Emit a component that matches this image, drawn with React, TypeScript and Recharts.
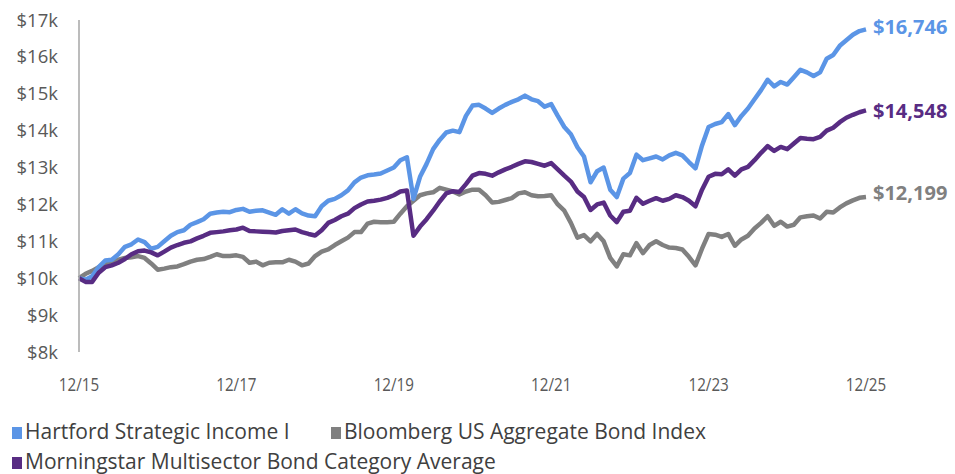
import { LineChart, Line, XAxis, YAxis, LabelList } from "recharts";

// monthly growth of $10,000, 12/15 .. 12/25
const hartford = [
  10000, 9960, 10050, 10300, 10480, 10500, 10650, 10850, 10920, 11050, 10980, 10800, 10850, 11000, 11150, 11250, 11300, 11450, 11520, 11600, 11750,
  11780, 11800, 11790, 11850, 11880, 11800, 11830, 11840, 11780, 11720, 11870, 11750, 11870, 11760, 11700, 11680, 11950, 12100, 12150, 12250,
  12380, 12600, 12730, 12790, 12810, 12840, 12920, 13000, 13200, 13280,
  12150, 12750, 13100, 13500, 13750, 13950, 14000, 13960, 14400, 14680,
  14700, 14600, 14480, 14600, 14700, 14780, 14850, 14950, 14850, 14800,
  14650, 14720, 14400, 14100, 13900, 13550, 13300, 12600, 12900, 13000,
  12400, 12200, 12700, 12850, 13350, 13200, 13250, 13300, 13220, 13330,
  13400, 13330, 13150, 12980, 13600, 14100, 14180, 14230, 14450, 14150,
  14400, 14600, 14850, 15100, 15380, 15200, 15320, 15250, 15450, 15650,
  15580, 15480, 15580, 15950, 16050, 16300, 16450, 16600, 16700, 16746,
];

const bloomberg = [
  10000, 10120, 10200, 10300, 10400, 10450, 10500, 10550, 10570, 10600, 10550, 10400, 10230, 10260, 10300, 10320, 10380, 10450, 10500, 10520, 10580,
  10650, 10600, 10600, 10620, 10580, 10420, 10450, 10350, 10420, 10430, 10430, 10500, 10450, 10350, 10400, 10600, 10720, 10780, 10900, 11000,
  11100, 11250, 11250, 11480, 11530, 11520, 11520, 11530, 11750, 11950,
  12100, 12250, 12300, 12330, 12450, 12400, 12350, 12270, 12350, 12400,
  12400, 12250, 12050, 12070, 12120, 12170, 12300, 12330, 12250, 12220,
  12230, 12250, 12000, 11830, 11500, 11100, 11170, 11000, 11200, 11000,
  10550, 10320, 10650, 10620, 10950, 10680, 10900, 11000, 10900, 10830,
  10820, 10780, 10580, 10350, 10800, 11200, 11180, 11120, 11200, 10880,
  11050, 11150, 11350, 11500, 11680, 11420, 11530, 11400, 11450, 11650,
  11680, 11700, 11620, 11800, 11780, 11920, 12030, 12110, 12180, 12199,
];

const morningstar = [
  10000, 9900, 9900, 10150, 10300, 10350, 10420, 10520, 10650, 10730, 10750, 10700, 10620, 10720, 10830, 10900, 10960, 11000, 11080, 11150, 11230,
  11250, 11270, 11300, 11320, 11370, 11280, 11270, 11260, 11250, 11240, 11280, 11300, 11320, 11250, 11200, 11160, 11300, 11500, 11580, 11680,
  11750, 11900, 12000, 12080, 12100, 12130, 12180, 12250, 12350, 12380,
  11150, 11400, 11600, 11830, 12080, 12300, 12360, 12340, 12550, 12780,
  12850, 12830, 12780, 12870, 12950, 13020, 13100, 13170, 13150, 13100,
  13050, 13120, 12950, 12780, 12620, 12350, 12200, 11850, 12000, 12050,
  11700, 11520, 11800, 11830, 12180, 12020, 12100, 12170, 12100, 12150,
  12250, 12200, 12100, 11950, 12400, 12750, 12830, 12820, 12950, 12780,
  12950, 13020, 13200, 13400, 13580, 13450, 13560, 13500, 13650, 13800,
  13780, 13770, 13830, 14000, 14080, 14230, 14350, 14430, 14500, 14548,
];

const xTicks = [0, 24, 48, 72, 96, 120];
const xTickLabels = ["12/15", "12/17", "12/19", "12/21", "12/23", "12/25"];
const yTicks = [8000, 9000, 10000, 11000, 12000, 13000, 14000, 15000, 16000, 17000];

const BLUE = "#5B95E6";
const GRAY = "#808080";
const PURPLE = "#582C83";
const FONT = "'Open Sans', sans-serif";

const data = hartford.map((v, i) => ({
  m: i,
  hartford: v,
  bloomberg: bloomberg[i],
  morningstar: morningstar[i],
}));
const last = data.length - 1;

const endLabel = (color: string, dy: number) => (props: any) => {
  if (props.index !== last) return null;
  return (
    <text x={props.x + 7} y={props.y + dy} fill={color} fontSize={20} fontWeight={700} fontFamily={FONT}>
      {"$" + Number(props.value).toLocaleString("en-US")}
    </text>
  );
};

const XTick = (props: any) => {
  const { x, y, payload } = props;
  const label = xTickLabels[xTicks.indexOf(payload.value)] ?? "";
  return (
    <text
      x={0}
      y={0}
      textAnchor="middle"
      fill="#595959"
      fontSize={19}
      fontFamily={FONT}
      transform={`translate(${x} ${y + 13}) scale(0.8 1)`}
    >
      {label}
    </text>
  );
};

const legendItems = [
  { name: "Hartford Strategic Income I", color: BLUE, x: 12, y: 39 },
  { name: "Bloomberg US Aggregate Bond Index", color: GRAY, x: 331, y: 39 },
  { name: "Morningstar Multisector Bond Category Average", color: PURPLE, x: 12, y: 69 },
];

export default function App() {
  return (
    <div style={{ position: "relative", width: 955, height: 474, overflow: "hidden", background: "#fff" }}>
      <style>{`body{margin:0}`}</style>
      <LineChart width={955} height={400} data={data} margin={{ top: 20, right: 89, bottom: 18, left: 0 }}>
        <XAxis
          dataKey="m"
          type="number"
          domain={[0, 120]}
          ticks={xTicks}
          axisLine={false}
          tickLine={false}
          tickSize={0}
          tickMargin={26}
          height={30}
          tick={<XTick />}
          interval={0}
        />
        <YAxis
          type="number"
          domain={[8000, 17000]}
          ticks={yTicks}
          width={79}
          axisLine={{ stroke: "#A6A6A6", strokeWidth: 1.5 }}
          tickLine={false}
          tickSize={0}
          tickMargin={21}
          tickFormatter={(v: number) => `$${v / 1000}k`}
          tick={{ fill: "#595959", fontSize: 18.5, fontFamily: FONT }}
          interval={0}
        />
        <Line type="linear" dataKey="bloomberg" stroke={GRAY} strokeWidth={4.5} dot={false} isAnimationActive={false} strokeLinejoin="round">
          <LabelList dataKey="bloomberg" content={endLabel(GRAY, 3)} />
        </Line>
        <Line type="linear" dataKey="hartford" stroke={BLUE} strokeWidth={4.5} dot={false} isAnimationActive={false} strokeLinejoin="round">
          <LabelList dataKey="hartford" content={endLabel(BLUE, 5)} />
        </Line>
        <Line type="linear" dataKey="morningstar" stroke={PURPLE} strokeWidth={4.5} dot={false} isAnimationActive={false} strokeLinejoin="round">
          <LabelList dataKey="morningstar" content={endLabel(PURPLE, 8)} />
        </Line>
      </LineChart>
      <svg width={955} height={74} style={{ position: "absolute", left: 0, top: 400 }}>
        {legendItems.map((it) => (
          <g key={it.name}>
            <rect x={it.x} y={it.y - 12} width={10} height={12} fill={it.color} />
            <text
              x={0}
              y={0}
              fontSize={22}
              fill="#404040"
              fontFamily={FONT}
              transform={`translate(${it.x + 13} ${it.y}) scale(0.955 1)`}
            >
              {it.name}
            </text>
          </g>
        ))}
      </svg>
    </div>
  );
}
